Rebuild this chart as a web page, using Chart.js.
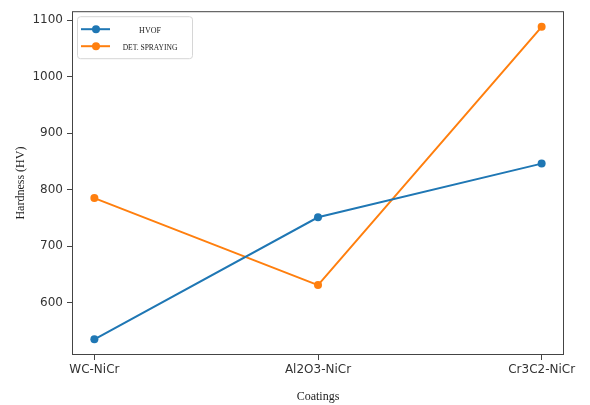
<!DOCTYPE html>
<html>
<head>
<meta charset="utf-8">
<script src="https://cdn.jsdelivr.net/npm/chart.js@4"></script>
<style>
    body{margin:0;background:#fff;}
    #caja{width:590px;height:405px;}
</style>
</head>
<body>
<div id="caja"><canvas id="Grafico1" width="590" height="405"></canvas></div>
<script>
// datos
const recubrimientos = ['WC-NiCr', 'Al2O3-NiCr', 'Cr3C2-NiCr'];
const hvof = [535, 751, 846];
const det_spraying = [785, 631, 1088];
const nombres = ['HVOF', 'DET. SPRAYING'];
const colores = ['#1f77b4', '#ff7f0e'];
const marcas_y = [600, 700, 800, 900, 1000, 1100];

function puntos(valores){
    return valores.map((v, i) => ({x: i, y: v}));
}

// margen de 5% como matplotlib
let todos = hvof.concat(det_spraying);
let ymin = Math.min(...todos), ymax = Math.max(...todos);
let margen = (ymax - ymin) * 0.05;

const marco = {
    id: 'marco',
    afterDraw(chart){
        const ctx = chart.ctx;
        const a = chart.chartArea;
        ctx.save();
        ctx.strokeStyle = '#444';
        ctx.lineWidth = 1;
        ctx.strokeRect(a.left + 0.5, a.top + 0.5, a.right - a.left - 1, a.bottom - a.top - 1);

        // leyenda dentro del area
        let lx = a.left + 5, ly = a.top + 5, w = 115, h = 42;
        ctx.fillStyle = 'rgba(255,255,255,0.8)';
        ctx.strokeStyle = '#d6d6d6';
        ctx.beginPath();
        ctx.roundRect(lx + 0.5, ly + 0.5, w, h, 3);
        ctx.fill();
        ctx.stroke();
        const filas = [ly + 13, ly + 30];
        const tamanos = [8, 7.5];
        nombres.forEach((n, i) => {
            let y = filas[i];
            ctx.strokeStyle = colores[i];
            ctx.lineWidth = 2;
            ctx.beginPath();
            ctx.moveTo(lx + 4, y);
            ctx.lineTo(lx + 33, y);
            ctx.stroke();
            ctx.fillStyle = colores[i];
            ctx.beginPath();
            ctx.arc(lx + 19, y, 4, 0, Math.PI * 2);
            ctx.fill();
            ctx.fillStyle = '#222';
            ctx.font = tamanos[i] + 'px "Liberation Serif"';
            ctx.textAlign = 'center';
            ctx.textBaseline = 'middle';
            ctx.fillText(n, lx + 73, y + 1.5);
        });
        ctx.restore();
    }
};

let CanvasG1 = document.getElementById('Grafico1').getContext('2d');
let datos = {
    datasets: [
        {
            label: nombres[0],
            data: puntos(hvof),
            borderColor: colores[0],
            backgroundColor: colores[0],
            borderWidth: 2,
            pointRadius: 4,
            pointBorderWidth: 0,
        },
        {
            label: nombres[1],
            data: puntos(det_spraying),
            borderColor: colores[1],
            backgroundColor: colores[1],
            borderWidth: 2,
            pointRadius: 4,
            pointBorderWidth: 0,
        },
    ]
};
let opciones = {
    responsive: false,
    animation: false,
    layout: {padding: {left: 0, right: 26, top: 10, bottom: 0}},
    plugins: {legend: {display: false}, tooltip: {enabled: false}},
    scales: {
        x: {
            type: 'linear',
            min: -0.1,
            max: 2.1,
            afterBuildTicks: function(eje){
                eje.ticks = recubrimientos.map((r, i) => ({value: i}));
            },
            afterFit: function(eje){ eje.height = 50; },
            ticks: {
                callback: function(v){ return recubrimientos[v]; },
                font: {family: 'DejaVu Sans', size: 12},
                color: '#333',
                padding: 3,
                maxRotation: 0,
            },
            grid: {drawOnChartArea: false, tickLength: 5, tickColor: '#444'},
            border: {display: false},
            title: {
                display: true,
                text: 'Coatings',
                font: {family: 'Liberation Serif', size: 12},
                color: '#222',
                padding: {top: 0, bottom: 1},
            },
        },
        y: {
            min: ymin - margen,
            max: ymax + margen,
            afterBuildTicks: function(eje){
                eje.ticks = marcas_y.map(v => ({value: v}));
            },
            afterFit: function(eje){ eje.width = 72; },
            ticks: {
                callback: function(v){ return String(v); },
                font: {family: 'DejaVu Sans', size: 12},
                color: '#333',
                padding: 4,
            },
            grid: {drawOnChartArea: false, tickLength: 5, tickColor: '#444'},
            border: {display: false},
            title: {
                display: true,
                text: 'Hardness (HV)',
                font: {family: 'Liberation Serif', size: 12},
                color: '#222',
                padding: {top: 14, bottom: 0},
            },
        },
    },
};
let G1 = new Chart(CanvasG1, {
    type: 'line',
    data: datos,
    options: opciones,
    plugins: [marco],
});
</script>
</body>
</html>
